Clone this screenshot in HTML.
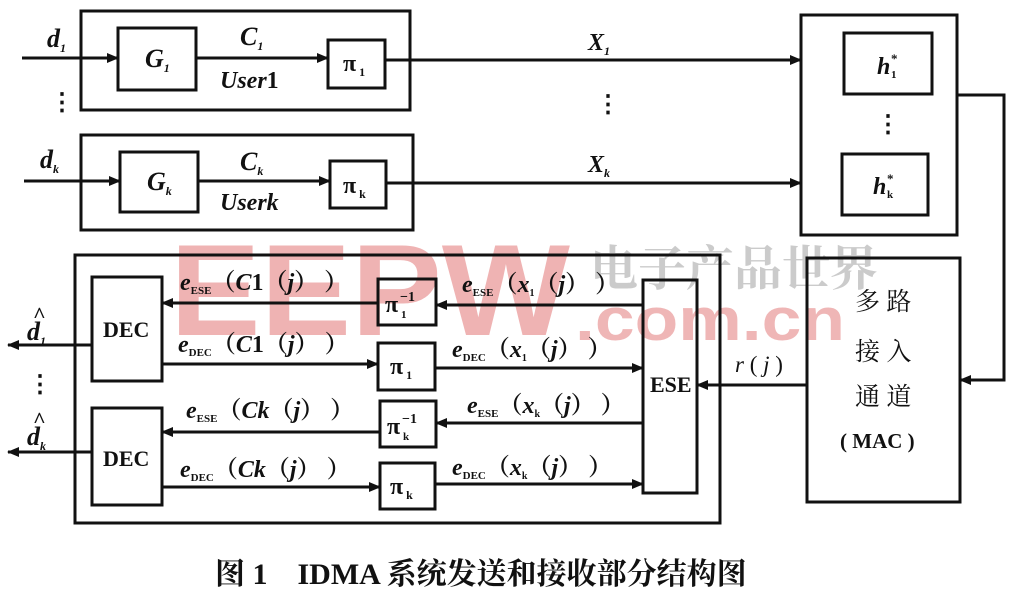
<!DOCTYPE html>
<html><head><meta charset="utf-8"><style>
body{margin:0;background:#fff;}
svg{display:block;}
text{font-family:"Liberation Serif","Noto Serif CJK SC",serif;font-weight:bold;fill:#111;}
.i{font-style:italic;}
</style></head><body>
<svg width="1023" height="595" viewBox="0 0 1023 595" xmlns="http://www.w3.org/2000/svg">
<defs>
<marker id="a" markerWidth="12" markerHeight="10" refX="11" refY="5" orient="auto" markerUnits="userSpaceOnUse">
<path d="M0,0 L12,5 L0,10 z" fill="#111"/></marker>
</defs>
<g opacity="0.5">
<text x="170" y="335" style="font-family:'Liberation Sans',sans-serif;fill:#e06a6a;font-weight:bold" font-size="130" textLength="400" lengthAdjust="spacingAndGlyphs">EEPW</text>
<text x="575" y="340" style="font-family:'Liberation Sans',sans-serif;fill:#e07070;font-weight:bold" font-size="60" textLength="270" lengthAdjust="spacingAndGlyphs">.com.cn</text>
<text x="590" y="285" style="font-family:'Noto Serif CJK SC',serif;fill:#999;font-weight:bold" font-size="48">电子产品世界</text>
</g>
<g stroke="#111" stroke-width="3" fill="none">
<rect x="81" y="11" width="329" height="99"/>
<rect x="118" y="28" width="78" height="62"/>
<rect x="328" y="40" width="57" height="48"/>
<rect x="81" y="135" width="332" height="95"/>
<rect x="120" y="152" width="78" height="60"/>
<rect x="330" y="161" width="56" height="47"/>
<rect x="801" y="15" width="156" height="220"/>
<rect x="844" y="33" width="88" height="61"/>
<rect x="842" y="154" width="86" height="61"/>
<rect x="807" y="258" width="153" height="244"/>
<rect x="75" y="255" width="645" height="268"/>
<rect x="92" y="277" width="70" height="104"/>
<rect x="92" y="408" width="70" height="97"/>
<rect x="643" y="280" width="54" height="213"/>
<rect x="378" y="279" width="58" height="46"/>
<rect x="378" y="343" width="57" height="47"/>
<rect x="380" y="401" width="56" height="46"/>
<rect x="380" y="463" width="55" height="46"/>
</g>
<g stroke="#111" stroke-width="3" fill="none" marker-end="url(#a)">
<line x1="22" y1="58" x2="118" y2="58"/>
<line x1="196" y1="58" x2="328" y2="58"/>
<line x1="385" y1="60" x2="801" y2="60"/>
<line x1="24" y1="181" x2="120" y2="181"/>
<line x1="198" y1="181" x2="330" y2="181"/>
<line x1="386" y1="183" x2="801" y2="183"/>
<polyline points="957,95 1004,95 1004,380 960,380"/>
<line x1="807" y1="385" x2="697" y2="385"/>
<line x1="643" y1="305" x2="436" y2="305"/>
<line x1="378" y1="303" x2="162" y2="303"/>
<line x1="162" y1="364" x2="378" y2="364"/>
<line x1="435" y1="368" x2="643" y2="368"/>
<line x1="643" y1="423" x2="436" y2="423"/>
<line x1="380" y1="432" x2="162" y2="432"/>
<line x1="162" y1="487" x2="380" y2="487"/>
<line x1="435" y1="484" x2="643" y2="484"/>
<line x1="92" y1="345" x2="8" y2="345"/>
<line x1="92" y1="452" x2="8" y2="452"/>
</g>
<text class="i" x="47" y="47" font-size="26">d<tspan font-size="12" dy="5">1</tspan></text>
<text class="i" x="40" y="168" font-size="26">d<tspan font-size="12" dy="5">k</tspan></text>
<text x="50" y="110" font-size="24">⋮</text>
<text class="i" x="145" y="67" font-size="26">G<tspan font-size="12" dy="5">1</tspan></text>
<text class="i" x="147" y="190" font-size="26">G<tspan font-size="12" dy="5">k</tspan></text>
<text class="i" x="240" y="45" font-size="26">C<tspan font-size="12" dy="5">1</tspan></text>
<text class="i" x="240" y="170" font-size="26">C<tspan font-size="12" dy="5">k</tspan></text>
<text class="i" x="220" y="88" font-size="24">User<tspan font-style="normal">1</tspan></text>
<text class="i" x="220" y="210" font-size="24">Userk</text>
<text x="343" y="71" font-size="24">π<tspan font-size="12" dy="5"> 1</tspan></text>
<text x="343" y="193" font-size="24">π<tspan font-size="12" dy="5"> k</tspan></text>
<text class="i" x="588" y="50" font-size="24">X<tspan font-size="12" dy="5">1</tspan></text>
<text class="i" x="588" y="172" font-size="24">X<tspan font-size="12" dy="5">k</tspan></text>
<text x="596" y="112" font-size="24">⋮</text>
<text class="i" x="877" y="74" font-size="24">h</text><text x="891" y="63" font-size="13">*</text><text x="891" y="78" font-size="11">1</text>
<text class="i" x="873" y="194" font-size="24">h</text><text x="887" y="183" font-size="13">*</text><text x="887" y="198" font-size="11">k</text>
<text x="876" y="132" font-size="24">⋮</text>
<text x="855" y="310" font-size="25" style="font-family:'Noto Serif CJK SC',serif;font-weight:normal">多 路</text>
<text x="855" y="360" font-size="25" style="font-family:'Noto Serif CJK SC',serif;font-weight:normal">接 入</text>
<text x="855" y="405" font-size="25" style="font-family:'Noto Serif CJK SC',serif;font-weight:normal">通 道</text>
<text x="840" y="448" font-size="21">( MAC )</text>
<text x="735" y="372" font-size="23" style="font-weight:normal"><tspan font-style="italic">r</tspan> ( <tspan font-style="italic">j</tspan> )</text>
<text x="103" y="337" font-size="22">DEC</text>
<text x="103" y="466" font-size="22">DEC</text>
<text x="650" y="392" font-size="22">ESE</text>
<text x="27" y="340" font-size="26" class="i">d<tspan font-size="12" dy="5">1</tspan></text>
<text x="33" y="322" font-size="22">^</text>
<text x="27" y="445" font-size="26" class="i">d<tspan font-size="12" dy="5">k</tspan></text>
<text x="33" y="427" font-size="22">^</text>
<text x="28" y="392" font-size="24">⋮</text>
<text x="385" y="312" font-size="24">π</text><text x="400" y="301" font-size="14">−1</text><text x="401" y="318" font-size="11">1</text>
<text x="390" y="374" font-size="24">π<tspan font-size="12" dy="5"> 1</tspan></text>
<text x="387" y="434" font-size="24">π</text><text x="402" y="423" font-size="14">−1</text><text x="403" y="440" font-size="11">k</text>
<text x="390" y="494" font-size="24">π<tspan font-size="12" dy="5"> k</tspan></text>
<text x="180" y="290" font-size="24"><tspan class="i">e</tspan><tspan font-size="11" dy="4">ESE</tspan><tspan dy="-4">（</tspan><tspan class="i">C</tspan>1（<tspan class="i">j</tspan>）  ）</text>
<text x="178" y="352" font-size="24"><tspan class="i">e</tspan><tspan font-size="11" dy="4">DEC</tspan><tspan dy="-4">（</tspan><tspan class="i">C</tspan>1（<tspan class="i">j</tspan>）  ）</text>
<text x="186" y="418" font-size="24"><tspan class="i">e</tspan><tspan font-size="11" dy="4">ESE</tspan><tspan dy="-4">（</tspan><tspan class="i">Ck</tspan>（<tspan class="i">j</tspan>）  ）</text>
<text x="180" y="477" font-size="24"><tspan class="i">e</tspan><tspan font-size="11" dy="4">DEC</tspan><tspan dy="-4">（</tspan><tspan class="i">Ck</tspan>（<tspan class="i">j</tspan>）  ）</text>
<text x="462" y="292" font-size="24"><tspan class="i">e</tspan><tspan font-size="11" dy="4">ESE</tspan><tspan dy="-4">（</tspan><tspan class="i">x</tspan><tspan font-size="10" dy="4">1</tspan><tspan dy="-4">（</tspan><tspan class="i">j</tspan>）  ）</text>
<text x="452" y="357" font-size="24"><tspan class="i">e</tspan><tspan font-size="11" dy="4">DEC</tspan><tspan dy="-4">（</tspan><tspan class="i">x</tspan><tspan font-size="10" dy="4">1</tspan><tspan dy="-4">（</tspan><tspan class="i">j</tspan>）  ）</text>
<text x="467" y="413" font-size="24"><tspan class="i">e</tspan><tspan font-size="11" dy="4">ESE</tspan><tspan dy="-4">（</tspan><tspan class="i">x</tspan><tspan font-size="10" dy="4">k</tspan><tspan dy="-4">（</tspan><tspan class="i">j</tspan>）  ）</text>
<text x="452" y="475" font-size="24"><tspan class="i">e</tspan><tspan font-size="11" dy="4">DEC</tspan><tspan dy="-4">（</tspan><tspan class="i">x</tspan><tspan font-size="10" dy="4">k</tspan><tspan dy="-4">（</tspan><tspan class="i">j</tspan>）  ）</text>
<text x="215" y="584" font-size="30">图 1　IDMA 系统发送和接收部分结构图</text>
</svg>
</body></html>
